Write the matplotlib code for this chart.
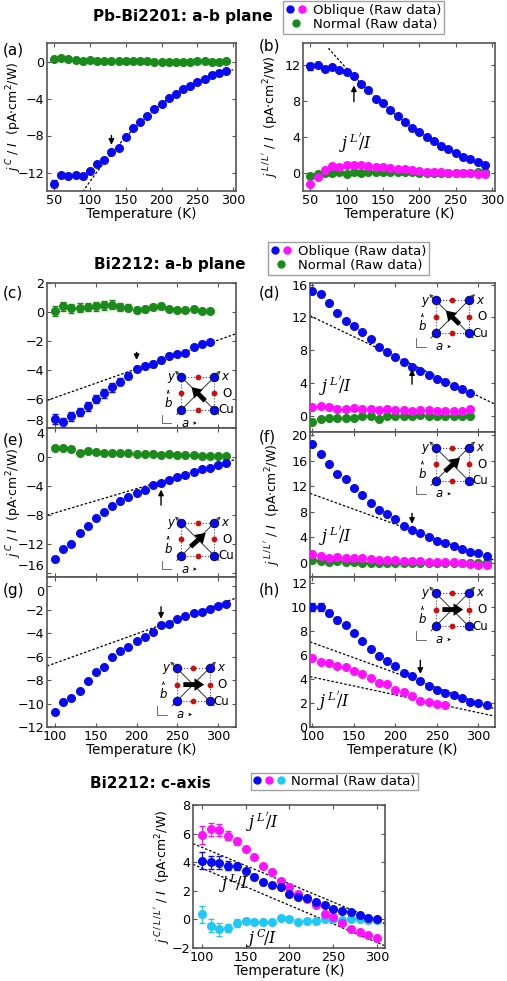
import numpy as np
import matplotlib
matplotlib.use("Agg")
import matplotlib.pyplot as plt
from matplotlib.legend_handler import HandlerTuple
from matplotlib.lines import Line2D

plt.rcParams['font.family'] = ['DejaVu Sans']
plt.rcParams['mathtext.fontset'] = 'dejavusans'

# ---------------- data ----------------
T_a = np.arange(50, 291, 10)
a_obl = [-13.2, -12.3, -12.4, -12.3, -12.4, -11.8, -11.1, -10.7, -9.8, -9.4, -8.2, -7.2, -6.5,
         -5.9, -5.1, -4.6, -3.9, -3.5, -3.0, -2.6, -2.2, -1.9, -1.5, -1.2, -1.0]
a_nor = [0.3, 0.4, 0.3, 0.2, 0.1, 0.2, 0.1, 0.1, 0.1, 0.1, 0.1, 0.05, 0.05, 0.05, 0, 0, 0, 0,
         -0.05, 0, 0.05, 0.05, 0, 0, 0.05]
b_obl = [11.8, 12.0, 11.5, 11.7, 11.4, 11.2, 10.7, 9.9, 9.2, 8.2, 7.7, 7.0, 6.3, 5.7, 5.0, 4.5,
         4.0, 3.5, 3.0, 2.6, 2.2, 1.8, 1.5, 1.2, 0.9]
b_lp = [-1.2, -0.4, 0.3, 0.8, 0.7, 0.9, 0.9, 0.9, 0.8, 0.7, 0.7, 0.5, 0.4, 0.4, 0.3, 0.2, 0.1,
        0.1, 0.1, 0, 0, 0, 0, -0.1, -0.1]
b_nor = [-0.3, -0.1, 0, 0, 0.1, -0.1, 0.1, 0, 0.1, 0.1, 0.1, 0.1, 0.1, 0.1, 0.1, 0.05, 0.05, 0,
         0, 0, 0, 0, 0, 0.1, 0.1]

T_20 = np.arange(100, 291, 10)
T_22 = np.arange(100, 311, 10)
c_obl = [-7.4, -7.6, -7.2, -6.9, -6.5, -6.0, -5.6, -5.2, -4.8, -4.4, -3.9, -3.7, -3.6, -3.3,
         -3.0, -2.9, -2.8, -2.4, -2.2, -2.1]
c_nor = [0.05, 0.4, 0.25, 0.3, 0.35, 0.4, 0.45, 0.5, 0.35, 0.3, 0.15, 0.2, 0.35, 0.4, 0.2,
         0.15, 0.15, 0.2, 0.05, 0.1]
c_err = [0.35, 0.3, 0.3, 0.3, 0.3, 0.3, 0.3, 0.3, 0.25, 0.25, 0.2, 0.2, 0.2, 0.2, 0.15, 0.15,
         0.15, 0.15, 0.1, 0.1]
d_obl = [15.2, 14.8, 13.7, 12.5, 11.6, 10.9, 10.2, 9.4, 8.4, 7.8, 7.2, 6.5, 6.0, 5.4, 5.0, 4.5,
         4.1, 3.6, 3.25, 2.8]
d_lp = [1.0, 1.2, 1.0, 0.8, 0.8, 0.9, 0.8, 0.8, 0.7, 0.75, 0.7, 0.65, 0.6, 0.65, 0.65, 0.6,
        0.55, 0.55, 0.55, 0.75]
d_nor = [-0.8, -0.4, -0.3, -0.3, -0.3, -0.3, -0.1, -0.1, -0.4, 0, -0.1, -0.1, -0.1, 0.05, -0.1,
         0, 0, -0.1, -0.05, 0]
e_obl = [-14.0, -12.6, -11.9, -10.5, -9.5, -8.4, -7.6, -6.7, -6.1, -5.5, -4.9, -4.5, -3.9, -3.5,
         -3.1, -2.7, -2.4, -2.0, -1.7, -1.5, -1.1, -0.75]
e_nor = [1.3, 1.3, 1.1, 0.6, 0.8, 0.7, 0.5, 0.5, 0.55, 0.6, 0.45, 0.45, 0.4, 0.35, 0.4, 0.3,
         0.3, 0.25, 0.2, 0.15, 0.2, 0.2]
f_obl = [18.6, 17.0, 15.45, 14.0, 13.2, 11.7, 10.6, 9.45, 8.35, 7.7, 6.85, 5.85, 5.15, 4.75,
         4.0, 3.5, 3.1, 2.65, 2.2, 1.7, 1.5, 1.05]
f_lp = [1.4, 1.1, 0.85, 0.9, 0.85, 0.8, 0.7, 0.6, 0.4, 0.4, 0.4, 0.3, 0.3, 0.3, 0.2, 0.2, 0.15,
        0.1, 0, -0.2, -0.35, -0.25]
f_nor = [0.5, 0.35, 0.2, 0.25, 0.15, 0.1, 0.05, 0, 0, 0, 0.05, 0, 0, -0.05, 0, 0, -0.05, 0, 0,
         -0.05, 0, 0.1]
g_obl = [-10.7, -9.9, -9.5, -8.9, -8.1, -7.3, -6.9, -6.05, -5.5, -5.2, -4.7, -4.3, -3.9, -3.3,
         -3.2, -2.8, -2.5, -2.3, -2.2, -1.9, -1.65, -1.5]
h_obl = [10.0, 10.0, 9.5, 8.9, 8.5, 7.8, 7.2, 6.5, 5.9, 5.5, 5.1, 4.5, 4.25, 3.8, 3.4, 3.1, 2.8,
         2.65, 2.4, 2.1, 2.0, 1.8]
T_h2 = np.arange(100, 261, 10)
h_lp = [5.75, 5.4, 5.35, 5.1, 5.0, 4.7, 4.4, 4.1, 3.7, 3.55, 3.1, 2.95, 2.6, 2.2, 2.1, 1.9, 1.8]

T_c = np.arange(100, 301, 10)
cx_L = [4.1, 4.0, 3.95, 3.75, 3.7, 3.35, 3.0, 2.6, 2.4, 2.25, 1.75, 1.6, 1.5, 1.2, 1.0, 0.7,
        0.6, 0.5, 0.3, 0.1, 0.0]
cx_Lp = [5.9, 6.3, 6.25, 5.85, 5.45, 4.95, 4.35, 3.75, 3.3, 2.7, 2.3, 1.75, 1.45, 1.0, 0.4,
         0.2, -0.25, -0.65, -0.9, -1.1, -1.3]
cx_C = [0.35, -0.45, -0.7, -0.6, -0.25, -0.1, -0.15, -0.15, -0.2, 0.1, 0.05, -0.15, -0.1, -0.1,
        0.05, 0, -0.05, 0, 0, -0.05, -0.05]
cx_err = [0.6, 0.45, 0.45, 0.3, 0.25, 0.2, 0.15, 0.15, 0.15, 0.1, 0.1, 0.1, 0.1, 0.1, 0.1, 0.1,
          0.1, 0.1, 0.1, 0.1, 0.1]

# guide lines (endpoints)
line_c = ([90, 322], [-6.1, -1.5])
line_d = ([97, 320], [12.2, 1.4])
line_e = ([90, 322], [-8.0, -0.3])
line_f = ([97, 320], [10.9, 0.4])
line_g = ([90, 322], [-6.8, -1.0])
line_h1 = ([97, 320], [7.1, 1.5])
line_h2 = ([97, 320], [4.2, 0.9])
line_cx1 = ([90, 309], [5.3, -0.3])
line_cx2 = ([90, 309], [3.85, -1.85])

BLUE = '#0a0af0'
MAG = '#ff10ff'
GRN = '#1a8a1a'
CYAN = '#20c8f5'
SP = '#555555'
TFS = 9.2
LFS = 9.0

W, H = 507, 981
fig = plt.figure(figsize=(W / 100, H / 100), dpi=100)


def ax_px(x0, x1, y0, y1):
    return fig.add_axes([x0 / W, 1 - y1 / H, (x1 - x0) / W, (y1 - y0) / H])


def style(ax):
    for s in ax.spines.values():
        s.set_color(SP)
        s.set_linewidth(1.2)
    ax.tick_params(direction='in', top=True, right=True, labelsize=TFS, length=3,
                   color=SP, pad=2)


def ylab(ax, s, xpix, x0):
    # xpix: right edge (in figure pixels) of the rotated label
    ax.set_ylabel(s, fontsize=LFS)
    bb = ax.get_position()
    ax.yaxis.set_label_coords((xpix - x0) / (bb.width * W), 0.5)


def edge_labels(ax, top=True, bottom=True):
    fig.canvas.draw()
    labs = ax.get_yticklabels()
    if bottom:
        labs[0].set_va('bottom')
    if top:
        labs[-1].set_va('top')


def pts(ax, x, y, c, yerr=None):
    ax.errorbar(x, y, yerr=yerr, fmt='o', color=c, ms=5.5, mec=c, ecolor=c,
                elinewidth=0.8, capsize=2, lw=0, zorder=3)


def dash(ax, ln):
    ax.plot(ln[0], ln[1], ls=(0, (2, 1.5)), color='black', lw=0.9, zorder=2)


def arrow(ax, x, y0, y1):
    ax.annotate('', xy=(x, y1), xytext=(x, y0),
                arrowprops=dict(arrowstyle='-|>', color='black', lw=1.0,
                                mutation_scale=8), zorder=4)


def plabel(x, y, s):
    fig.text(x / W, 1 - y / H, s, fontsize=11, va='center', ha='left')


def jlab(ax, x, y, sup):
    ax.text(x, y, r'$\mathit{j}^{\,' + sup + r'}\!/\mathit{I}$', fontsize=11.5,
            math_fontfamily='dejavuserif')


def inset(ax, rect, direction):
    ia = ax.inset_axes(rect)
    ia.set_xlim(-0.75, 1.6)
    ia.set_ylim(-0.55, 1.3)
    ia.axis('off')
    sq = [(0, 0), (1, 0), (1, 1), (0, 1), (0, 0)]
    ia.plot([p[0] for p in sq], [p[1] for p in sq], ls=':', color='#444', lw=0.8)
    ia.annotate('', xy=(1.25, 1.25), xytext=(-0.2, -0.2),
                arrowprops=dict(arrowstyle='->', color='#333', lw=0.7, mutation_scale=5))
    ia.annotate('', xy=(-0.25, 1.25), xytext=(1.2, -0.2),
                arrowprops=dict(arrowstyle='->', color='#333', lw=0.7, mutation_scale=5))
    ia.scatter([0, 1, 0, 1], [0, 0, 1, 1], s=36, color=BLUE, edgecolor='#101060',
               lw=0.8, zorder=3)
    ia.scatter([0.5, 0.5, 0, 1], [0, 1, 0.5, 0.5], s=10, color='#cc1010', zorder=3)
    ia.text(1.22, 1.0, 'x', fontsize=8.5, style='italic', va='center')
    ia.text(-0.42, 1.0, 'y', fontsize=8.5, style='italic', va='center')
    ia.text(1.25, 0.5, 'O', fontsize=8.5, va='center')
    ia.text(1.12, 0.0, 'Cu', fontsize=8.5, va='center')
    ia.annotate('', xy=(-0.4, 0.68), xytext=(-0.4, 0.5),
                arrowprops=dict(arrowstyle='->', lw=0.6, mutation_scale=4))
    ia.text(-0.4, 0.2, 'b', fontsize=8.5, style='italic', ha='center', va='center')
    ia.plot([-0.6, -0.6, -0.3], [-0.15, -0.4, -0.4], color='#555', lw=0.6)
    ia.text(0.1, -0.4, 'a', fontsize=8.5, style='italic', ha='center', va='center')
    ia.annotate('', xy=(0.55, -0.4), xytext=(0.3, -0.4),
                arrowprops=dict(arrowstyle='->', lw=0.6, mutation_scale=4))
    d = {'NW': ((0.78, 0.22), (0.25, 0.75)), 'NE': ((0.22, 0.22), (0.8, 0.75)),
         'E': ((0.12, 0.5), (0.92, 0.5))}[direction]
    ia.annotate('', xy=d[1], xytext=d[0],
                arrowprops=dict(arrowstyle='simple,head_width=0.9,head_length=0.7,tail_width=0.35',
                                color='black', lw=0, mutation_scale=10), zorder=5)


LBL = r'$j^{\,C}$ / $I$  (pA$\cdot$cm$^2$/W)'
LBL2 = r'$j^{\,L\,/\,L^{\prime}}$ / $I$  (pA$\cdot$cm$^2$/W)'
LBL3 = r'$j^{\,C\,/\,L\,/\,L^{\prime}}$ / $I$  (pA$\cdot$cm$^2$/W)'
LP = r"L^{\prime}"

# ---------- top row ----------
ax = ax_px(47, 236, 43, 191)
style(ax)
pts(ax, T_a, a_nor, GRN)
pts(ax, T_a, a_obl, BLUE, [0.4] + [0.15] * 24)
sel = T_a >= 130
p = np.polyfit(T_a[sel], np.array(a_obl)[sel], 2)
xx = np.linspace(90, 300, 100)
ax.plot(xx, np.polyval(p, xx), ls=(0, (2, 1.5)), color='black', lw=0.9, zorder=2)
arrow(ax, 130, -7.7, -9.3)
ax.set_xlim(40, 304)
ax.set_ylim(-14, 2)
ax.set_xticks([50, 100, 150, 200, 250, 300])
ax.set_yticks([-12, -8, -4, 0])
ax.set_xlabel('Temperature (K)', fontsize=9.8, labelpad=0)
ylab(ax, LBL, 24, 47)
plabel(3, 50, '(a)')

ax = ax_px(303, 495, 43, 191)
style(ax)
pts(ax, T_a, b_nor, GRN)
pts(ax, T_a, b_lp, MAG)
pts(ax, T_a, b_obl, BLUE, [0.4] + [0.15] * 24)
sel = T_a >= 110
p = np.polyfit(T_a[sel], np.array(b_obl)[sel], 2)
xx = np.linspace(75, 295, 100)
ax.plot(xx, np.polyval(p, xx), ls=(0, (2, 1.5)), color='black', lw=0.9, zorder=2)
arrow(ax, 110, 7.6, 10.0)
jlab(ax, 90, 2.6, LP)
ax.set_xlim(40, 304)
ax.set_ylim(-2, 14.4)
ax.set_xticks([50, 100, 150, 200, 250, 300])
ax.set_yticks([0, 4, 8, 12])
ax.set_xlabel('Temperature (K)', fontsize=9.8, labelpad=0)
ylab(ax, LBL2, 280, 303)
plabel(259, 46, '(b)')

# ---------- middle block ----------
left = [(c_obl, c_nor, T_20, line_c, (-8, 2), [-8, -6, -4, -2, 0, 2], 'NW', 200, (-2.6, -3.5)),
        (e_obl, e_nor, T_22, line_e, (-16.5, 4), [-16, -12, -8, -4, 0, 4], 'NE', 230, (-7.0, -4.1)),
        (g_obl, None, T_22, line_g, (-12, 0.8), [-12, -10, -8, -6, -4, -2, 0], 'E', 230, (-1.5, -3.0))]
ys = [(283, 428), (428, 577), (577, 727)]
insets_l = [[0.58, 0.0, 0.41, 0.42], [0.58, 0.02, 0.41, 0.41], [0.555, 0.05, 0.41, 0.41]]
axes_l = []
for i, (ob, no, T, ln, yl, yt, dr, ax_x, ay) in enumerate(left):
    ax = ax_px(47, 236, *ys[i])
    style(ax)
    if no is not None:
        pts(ax, T, no, GRN, c_err if i == 0 else None)
    pts(ax, T, ob, BLUE, c_err if i == 0 else None)
    dash(ax, ln)
    arrow(ax, ax_x, ay[0], ay[1])
    ax.set_xlim(90, 322)
    ax.set_ylim(*yl)
    ax.set_yticks(yt)
    ax.set_xticks([100, 150, 200, 250, 300])
    if i < 2:
        ax.tick_params(labelbottom=False)
    else:
        ax.set_xlabel('Temperature (K)', fontsize=9.8, labelpad=0)
    inset(ax, insets_l[i], dr)
    if i == 1:
        ylab(ax, LBL, 24, 47)
    axes_l.append(ax)
plabel(3, 293, '(c)')
plabel(3, 440, '(e)')
plabel(3, 590, '(g)')

right = [((d_obl, d_lp, d_nor), T_20, [line_d], (-2, 16.2), [0, 4, 8, 12, 16], 'NW', 220, (3.5, 6.0)),
         ((f_obl, f_lp, f_nor), T_22, [line_f], (-2.2, 20.5), [0, 4, 8, 12, 16, 20], 'NE', 220, (8.2, 5.7)),
         ((h_obl, None, None), T_22, [line_h1, line_h2], (0, 12.5), [0, 2, 4, 6, 8, 10, 12], 'E', 230, (5.8, 4.2))]
ys_r = [(283, 432), (432, 577), (577, 727)]
insets_r = [[0.545, 0.54, 0.42, 0.41], [0.545, 0.54, 0.42, 0.42], [0.545, 0.55, 0.42, 0.41]]
lpos = [(108, 2.9), (108, 3.3), (105, 1.7)]
for i, ((ob, lp, no), T, lns, yl, yt, dr, ax_x, ay) in enumerate(right):
    ax = ax_px(310, 495, *ys_r[i])
    style(ax)
    if no is not None:
        pts(ax, T, no, GRN)
    if lp is not None:
        pts(ax, T, lp, MAG)
    else:
        pts(ax, T_h2, h_lp, MAG)
    pts(ax, T, ob, BLUE, [0.3, 0.3, 0.25, 0.25] + [0.1] * (len(T) - 4) if i == 2 else None)
    for ln in lns:
        dash(ax, ln)
    arrow(ax, ax_x, ay[0], ay[1])
    ax.set_xlim(97, 320)
    ax.set_ylim(*yl)
    ax.set_yticks(yt)
    ax.set_xticks([100, 150, 200, 250, 300])
    if i < 2:
        ax.tick_params(labelbottom=False)
    else:
        ax.set_xlabel('Temperature (K)', fontsize=9.8, labelpad=0)
    jlab(ax, lpos[i][0], lpos[i][1], LP)
    inset(ax, insets_r[i], dr)
    if i == 1:
        ylab(ax, LBL2, 282, 310)
plabel(259, 293, '(d)')
plabel(259, 437, '(f)')
plabel(259, 590, '(h)')

edge_labels(axes_l[0], top=False, bottom=True)
edge_labels(axes_l[1], top=True, bottom=True)
edge_labels(axes_l[2], top=True, bottom=False)

# ---------- c-axis ----------
ax = ax_px(193, 385, 805, 948)
style(ax)
pts(ax, T_c, cx_C, CYAN, cx_err)
pts(ax, T_c, cx_Lp, MAG, cx_err)
pts(ax, T_c, cx_L, BLUE, cx_err)
dash(ax, line_cx1)
dash(ax, line_cx2)
jlab(ax, 150, 6.4, LP)
jlab(ax, 120, 2.1, 'L')
jlab(ax, 150, -1.75, 'C')
ax.set_xlim(90, 309)
ax.set_ylim(-2, 8)
ax.set_xticks([100, 150, 200, 250, 300])
ax.set_yticks([-2, 0, 2, 4, 6, 8])
ax.set_xlabel('Temperature (K)', fontsize=9.8, labelpad=0)
ylab(ax, LBL3, 172, 193)

# ---------- titles & legends ----------
fig.text(183 / W, 1 - 17 / H, 'Pb-Bi2201: a-b plane', fontsize=11, fontweight='bold',
         ha='center', va='center')
fig.text(170 / W, 1 - 264 / H, 'Bi2212: a-b plane', fontsize=11, fontweight='bold',
         ha='center', va='center')
fig.text(150 / W, 1 - 783 / H, 'Bi2212: c-axis', fontsize=11, fontweight='bold',
         ha='center', va='center')


def mk(c):
    return Line2D([], [], marker='o', ls='', color=c, ms=5)


for (x0, y0) in [(283, 1), (268, 242)]:
    leg = fig.legend([(mk(BLUE), mk(MAG)), mk(GRN)],
                     ['Oblique (Raw data)', 'Normal (Raw data)'],
                     handler_map={tuple: HandlerTuple(ndivide=None, pad=0.3)},
                     loc='upper left', bbox_to_anchor=(x0 / W, 1 - y0 / H),
                     fontsize=9.5, frameon=True, fancybox=False, edgecolor='#888',
                     borderpad=0.2, labelspacing=0.1, handlelength=1.6,
                     handletextpad=0.5, borderaxespad=0)
    leg.get_frame().set_linewidth(1.0)
leg = fig.legend([(mk(BLUE), mk(MAG), mk(CYAN))], ['Normal (Raw data)'],
                 handler_map={tuple: HandlerTuple(ndivide=None, pad=0.3)},
                 loc='upper left', bbox_to_anchor=(251 / W, 1 - 773 / H),
                 fontsize=9.5, frameon=True, fancybox=False, edgecolor='#888',
                 borderpad=0.15, handlelength=2.4, handletextpad=0.5, borderaxespad=0)

fig.savefig('out.png', dpi=100)
